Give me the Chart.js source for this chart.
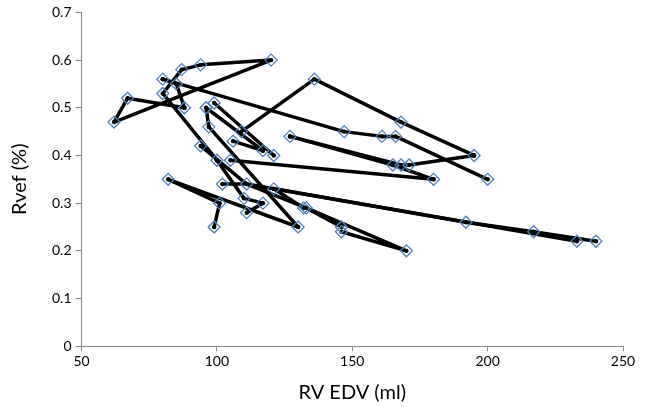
<!DOCTYPE html>
<html>
<head>
<meta charset="utf-8">
<script src="https://cdn.jsdelivr.net/npm/chart.js@4/dist/chart.umd.min.js"></script>
<style>
  html, body { margin: 0; padding: 0; background: #fff; }
  #wrap { width: 650px; height: 407px; position: relative; }
</style>
</head>
<body>
<div id="wrap"><canvas id="c" width="650" height="407"></canvas></div>
<script>
// Point values
const edv = [62,67,88,80,80,85,87,94,120,136, 96,99,97,94,100,105,109,106,117,121,
             127,147,161,166,168,195,200,165,168,171, 180,82,101,99,102,111,110,117,111,121,
             130,132,133,146,146,170,192,217,233,240];
const rvef = [0.47,0.52,0.50,0.56,0.53,0.55,0.58,0.59,0.60,0.56, 0.50,0.51,0.46,0.42,0.39,0.39,0.45,0.43,0.41,0.40,
              0.44,0.45,0.44,0.44,0.47,0.40,0.35,0.38,0.38,0.38, 0.35,0.35,0.30,0.25,0.34,0.34,0.31,0.30,0.28,0.33,
              0.25,0.29,0.29,0.25,0.24,0.20,0.26,0.24,0.22,0.22];
// Connecting lines, as 1-based point numbers
const paths = [
  [3,2,1,9,8,7,5,15],
  [4,6,3],
  [4,22,23,24,27],
  [17,10,25,26],
  [18,19],
  [13,41],
  [13,11,19],
  [12,20],
  [14,36,43],
  [21,28,31],
  [21,29],
  [28,30,26],
  [16,31],
  [34,33,32,41],
  [35,36,47,48,50],
  [40,49],
  [15,37,38,39],
  [40,42],
  [44,43,46,45]
];
const xTicks = [50,100,150,200,250];
const yTicks = [0,0.1,0.2,0.3,0.4,0.5,0.6,0.7];

const datasets = [];
datasets.push({
  label: 'points',
  data: edv.map((x, i) => ({x: x, y: rvef[i]})),
  showLine: false,
  pointStyle: 'rectRot',
  pointRadius: 6,
  pointBorderColor: '#4F81BD',
  pointBackgroundColor: 'rgba(0,0,0,0)',
  pointBorderWidth: 1.3,
  order: 0
});
paths.forEach(p => {
  datasets.push({
    data: p.map(k => ({x: edv[k-1], y: rvef[k-1]})),
    showLine: true,
    borderColor: '#000',
    borderWidth: 3.5,
    borderJoinStyle: 'round',
    borderCapStyle: 'round',
    pointRadius: 2.2,
    pointStyle: 'circle',
    pointBackgroundColor: '#000',
    pointBorderWidth: 0,
    order: 1
  });
});

const FONT = "Lato, 'Open Sans', sans-serif";
new Chart(document.getElementById('c'), {
  type: 'scatter',
  data: { datasets },
  options: {
    responsive: false,
    animation: false,
    devicePixelRatio: 1,
    layout: { padding: { left: 8, right: 27, top: 11, bottom: 2 } },
    plugins: { legend: { display: false }, tooltip: { enabled: false } },
    scales: {
      x: {
        type: 'linear', min: 50, max: 250,
        afterBuildTicks: s => { s.ticks = xTicks.map(v => ({value: v})); },
        grid: { display: true, drawOnChartArea: false, drawTicks: true, tickLength: 5, color: '#868686' },
        border: { color: '#868686', width: 1 },
        ticks: { color: '#000', font: { family: FONT, size: 14 }, padding: 2, maxRotation: 0 },
        title: { display: true, text: 'RV EDV (ml)', color: '#000', font: { family: FONT, size: 20 }, padding: { top: 9, bottom: 0 } }
      },
      y: {
        type: 'linear', min: 0, max: 0.7,
        afterBuildTicks: s => { s.ticks = yTicks.map(v => ({value: v})); },
        grid: { display: true, drawOnChartArea: false, drawTicks: true, tickLength: 6, color: '#868686' },
        border: { color: '#868686', width: 1 },
        ticks: { color: '#000', font: { family: FONT, size: 14 }, padding: 4, callback: v => String(v) },
        title: { display: true, text: 'Rvef (%)', color: '#000', font: { family: FONT, size: 20 }, padding: { top: 0, bottom: 16 } }
      }
    }
  }
});
</script>
</body>
</html>
